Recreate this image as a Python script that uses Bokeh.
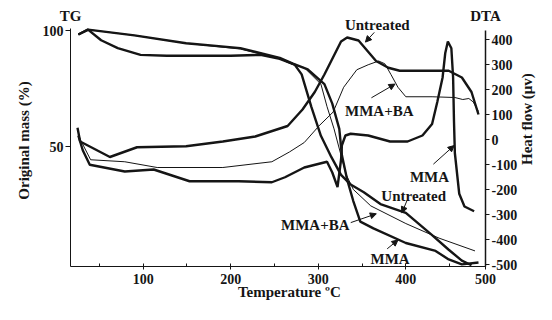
import math
from bokeh.plotting import figure
from bokeh.models import Range1d, LinearAxis, FixedTicker, Label, Arrow, NormalHead
from bokeh.embed import file_html
from bokeh.resources import INLINE

# ---------------- data ----------------
# TG curves: temperature (C) vs original mass (%)
tg_untreated_t = [26, 37, 52, 71, 97, 127, 150, 200, 234, 256, 273, 281, 292, 303, 315, 326, 337, 352, 371, 400, 430, 449, 464, 475]
tg_untreated_m = [98.3, 100.4, 95.8, 92.4, 89.5, 89.1, 89.1, 89.1, 89.5, 87.8, 85.3, 81.1, 67.2, 54.6, 45.4, 37.8, 33.6, 30.3, 25.2, 21.4, 11.8, 5.5, 0.8, -1.2]

tg_mmaba_t = [26, 37, 90, 149, 211, 256, 271, 284, 303, 310, 318, 326, 332, 340, 360, 400, 438, 479]
tg_mmaba_m = [98.3, 100.4, 97.9, 94.5, 92.0, 87.8, 85.3, 84.0, 76.9, 67.2, 57.6, 46.2, 37.8, 31.5, 24.4, 16.8, 10.5, 5.0]

tg_mma_t = [26, 37, 90, 149, 211, 256, 271, 288, 307, 316, 324, 327, 333, 340, 348, 363, 400, 434, 449, 464, 483]
tg_mma_m = [98.3, 100.4, 97.9, 94.5, 92.4, 88.2, 85.7, 83.2, 76.9, 68.5, 57.6, 46.2, 35.7, 26.5, 17.6, 14.7, 8.4, 5.0, 1.3, -0.8, 0.0]

# DTA curves: temperature (C) vs heat flow (uV)
dta_untreated_t = [25, 28, 62, 93, 149, 191, 228, 265, 282, 296, 307, 326, 333, 346, 366, 380, 393, 419, 449, 464, 475, 483]
dta_untreated_h = [47, -8, -70, -31, -27, -8, 12, 54, 120, 190, 260, 392, 408, 396, 314, 287, 275, 275, 275, 248, 190, 100]

dta_mmaba_t = [26, 40, 79, 116, 191, 247, 267, 284, 301, 317, 329, 344, 357, 369, 376, 383, 391, 400, 430, 456, 465, 472, 477, 483]
dta_mmaba_h = [15, -81, -89, -112, -112, -89, -50, -12, 55, 110, 209, 279, 299, 314, 303, 260, 209, 171, 171, 168, 160, 164, 150, 112]

dta_mma_t = [26, 31, 39, 79, 112, 153, 209, 247, 262, 284, 310, 316, 322, 326, 327, 331, 337, 357, 382, 402, 419, 430, 436, 442, 445, 448, 452, 454, 455, 456, 461, 467, 478]
dta_mma_h = [15, -43, -101, -128, -120, -167, -167, -171, -151, -112, -89, -132, -190, -81, -23, 16, 23, 16, -8, -8, 16, 62, 151, 248, 345, 392, 365, 248, 74, -54, -217, -268, -287]

x_ticks = [100, 200, 300, 400, 491]
x_tick_labels = {491: "500"}
x_minor_ticks = [50, 150, 250, 350, 450]
tg_ticks = [50, 100]
dta_ticks = [400, 300, 200, 100, 0, -100, -200, -300, -400, -500]

# ---------------- figure ----------------
FONT = "Liberation Serif"
INK = "#151515"

p = figure(width=536, height=304, output_backend="svg", toolbar_location=None,
           x_range=Range1d(17, 491), y_range=Range1d(-1.72, 106.9),
           min_border_left=70, min_border_right=50, min_border_top=14, min_border_bottom=38,
           background_fill_color="white", border_fill_color="white")
p.outline_line_color = None
p.grid.visible = False
p.extra_y_ranges = {"dta": Range1d(-508, 500)}

def style_axis(ax, size="14px"):
    ax.axis_line_color = INK
    ax.axis_line_width = 1
    ax.major_tick_line_color = INK
    ax.minor_tick_line_color = INK
    ax.major_label_text_font = FONT
    ax.major_label_text_font_style = "bold"
    ax.major_label_text_font_size = size
    ax.major_label_text_color = INK

def text_only(ax, size="15px"):
    style_axis(ax, size)
    ax.axis_line_color = None
    ax.major_tick_line_color = None
    ax.minor_tick_line_color = None
    ax.major_tick_in = 0
    ax.major_tick_out = 0

xa = p.xaxis[0]
style_axis(xa)
xa.ticker = FixedTicker(ticks=x_ticks, minor_ticks=x_minor_ticks)
xa.major_label_overrides = x_tick_labels
xa.major_tick_in = 3
xa.major_tick_out = 3
xa.minor_tick_in = 3
xa.minor_tick_out = 0
xa.major_label_standoff = 4

ya = p.yaxis[0]
style_axis(ya)
ya.ticker = FixedTicker(ticks=tg_ticks, minor_ticks=[])
ya.bounds = (-1.72, 100.8)
ya.major_tick_in = 0
ya.major_tick_out = 5
ya.major_label_standoff = 2
ya.axis_label = "Original mass (%)"
ya.axis_label_text_font = FONT
ya.axis_label_text_font_style = "bold"
ya.axis_label_text_font_size = "15px"
ya.axis_label_text_color = INK
ya.axis_label_standoff = 8

ra = LinearAxis(y_range_name="dta", ticker=FixedTicker(ticks=dta_ticks, minor_ticks=[]))
style_axis(ra)
ra.bounds = (-508, 436)
ra.axis_line_width = 1.5
ra.major_tick_in = 0
ra.major_tick_out = 4
ra.major_label_standoff = 2
ra.major_label_overrides = {t: str(t) for t in dta_ticks}
p.add_layout(ra, "right")

# TG / DTA captions over the two vertical axes
ta = LinearAxis(ticker=FixedTicker(ticks=[17, 491], minor_ticks=[]))
text_only(ta)
ta.major_label_overrides = {17: "TG", 491: "DTA"}
ta.major_label_standoff = -9
p.add_layout(ta, "above")

# x title (outer below panel)
bt = LinearAxis(ticker=FixedTicker(ticks=[267], minor_ticks=[]))
text_only(bt)
bt.major_label_overrides = {267: "Temperature ºC"}
bt.major_label_standoff = -3
p.add_layout(bt, "below")

# right-hand title, placed in the right side panel (not clipped by the frame)
p.add_layout(Label(x=538.9, y=61.8, text="Heat flow (μv)", text_font=FONT, text_font_style="bold",
                   text_font_size="15px", text_color=INK, text_align="center",
                   text_baseline="middle", angle=math.pi / 2), "right")

THICK = 2.4
THIN = 1.0
p.line(tg_untreated_t, tg_untreated_m, line_color=INK, line_width=THICK)
p.line(tg_mmaba_t, tg_mmaba_m, line_color=INK, line_width=THIN)
p.line(tg_mma_t, tg_mma_m, line_color=INK, line_width=THICK)
p.line(dta_untreated_t, dta_untreated_h, line_color=INK, line_width=THICK, y_range_name="dta")
p.line(dta_mmaba_t, dta_mmaba_h, line_color=INK, line_width=THIN, y_range_name="dta")
p.line(dta_mma_t, dta_mma_h, line_color=INK, line_width=THICK, y_range_name="dta")

def lab(x, y, text, size="15px"):
    p.add_layout(Label(x=x, y=y, text=text, text_font=FONT, text_font_style="bold",
                       text_font_size=size, text_color=INK, text_align="center",
                       text_baseline="middle"))

# curve labels
lab(367.4, 102.5, "Untreated")
lab(369.7, 65.1, "MMA+BA")
lab(427.0, 37.0, "MMA")
lab(409.0, 28.6, "Untreated")
lab(296.6, 16.0, "MMA+BA")
lab(382.0, 1.3, "MMA")

# arrows
arrows = [
    (364.0, 99.2, 353.9, 95.0),
    (360.7, 71.0, 387.6, 76.9),
    (431.5, 42.4, 455.1, 50.4),
    (401.1, 26.5, 395.5, 21.4),
    (337.1, 17.2, 366.3, 21.0),
    (378.7, 5.9, 391.0, 9.7),
]
for xs, ys, xe, ye in arrows:
    p.add_layout(Arrow(x_start=xs, y_start=ys, x_end=xe, y_end=ye, line_color=INK, line_width=1,
                       end=NormalHead(size=6, fill_color=INK, line_color=INK, line_width=1)))

open("out.html", "w").write(file_html(p, INLINE))
